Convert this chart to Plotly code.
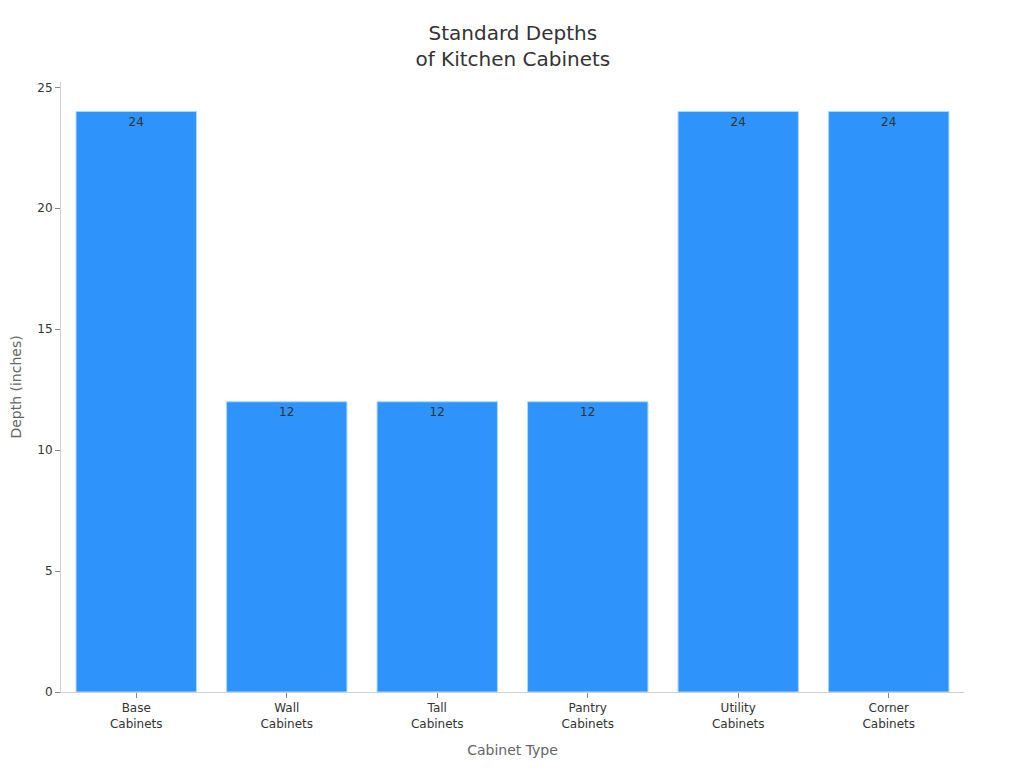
import plotly.graph_objects as go

categories = ["Base<br>Cabinets", "Wall<br>Cabinets", "Tall<br>Cabinets",
              "Pantry<br>Cabinets", "Utility<br>Cabinets", "Corner<br>Cabinets"]
depths = [24, 12, 12, 12, 24, 24]
y_ticks = [0, 5, 10, 15, 20, 25]

font_family = "DejaVu Sans, Verdana, sans-serif"

fig = go.Figure(go.Bar(
    x=categories,
    y=depths,
    text=[str(v) for v in depths],
    textposition="inside",
    insidetextanchor="end",
    textfont=dict(color="#333333", size=12, family=font_family),
    marker=dict(color="#2E93FA", line=dict(color="#A8D8FF", width=1)),
))

fig.update_layout(
    width=1024, height=768,
    margin=dict(l=53, r=68, t=74, b=84),
    paper_bgcolor="white", plot_bgcolor="white",
    font=dict(family=font_family, color="#333333", size=12),
    title=dict(text="Standard Depths<br>of Kitchen Cabinets", x=0.493, xanchor="center",
               y=0.958, yanchor="middle",
               font=dict(size=20, color="#333333", family=font_family)),
    bargap=0.2,
    showlegend=False,
    xaxis=dict(
        title=dict(text="Cabinet Type", font=dict(size=14, color="#666666"), standoff=15),
        automargin=False,
        showline=True, linecolor="#d0d0d0", linewidth=1,
        ticks="outside", tickcolor="#888888", ticklen=5,
        tickfont=dict(size=12, color="#333333"),
        showgrid=False,
    ),
    yaxis=dict(
        title=dict(text="Depth (inches)", font=dict(size=14, color="#666666"), standoff=18),
        automargin=False,
        range=[0, 25.22],
        tickvals=y_ticks,
        showline=True, linecolor="#d0d0d0", linewidth=1,
        ticks="outside", tickcolor="#888888", ticklen=5,
        tickfont=dict(size=12, color="#333333"),
        showgrid=False, zeroline=False,
    ),
)

fig.write_html("out.html")
